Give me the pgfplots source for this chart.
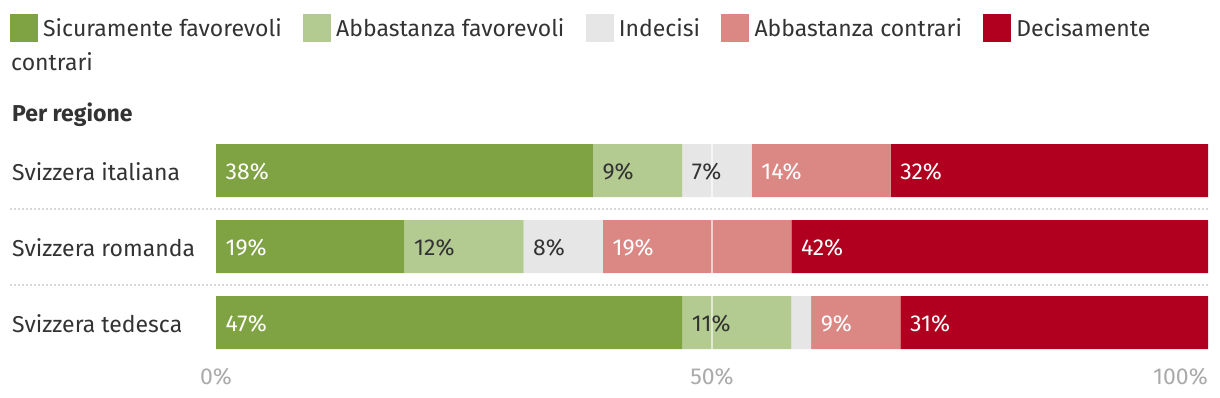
\documentclass[border=0pt]{standalone}
\usepackage{pgfplots}
\pgfplotsset{compat=1.18}
\usepackage{pgfplotstable}
\usepackage{fontspec}
\setmainfont{Fira Sans}
\usetikzlibrary{calc}

\definecolor{cSF}{HTML}{7FA343}
\definecolor{cAF}{HTML}{B3CB91}
\definecolor{cIN}{HTML}{E6E6E6}
\definecolor{cAC}{HTML}{DB8885}
\definecolor{cDC}{HTML}{B1001F}
\definecolor{txt}{HTML}{333333}
\definecolor{tickgray}{HTML}{AAAAAA}
\definecolor{sepcol}{HTML}{D8D8D8}

% row: 2 = Svizzera italiana, 1 = Svizzera romanda, 0 = Svizzera tedesca
\pgfplotstableread{
row sf af ind ac dc
2 38 9 7 14 32
1 19 12 8 19 42
0 47 11 2 9 31
}\datatab

\pgfplotstableread{
x y lab
0 2 38
54 2 14
68 2 32
0 1 19
39 1 19
58 1 42
0 0 47
60 0 9
69 0 31
}\whitelabels

\pgfplotstableread{
x y lab
38 2 9
47 2 7
19 1 12
31 1 8
47 0 11
}\darklabels

\pgfplotsset{
  basebox/.style={
    scale only axis, width=992bp, height=228bp,
    at={(216bp,-360.5bp)}, anchor=south west,
    xmin=0, xmax=100, ymin=-0.5, ymax=2.5,
    clip=false,
  }
}

\begin{document}
\fontsize{23bp}{28bp}\selectfont
\begin{tikzpicture}
\path[use as bounding box] (0,0) rectangle (1220bp,-398bp);

% legend
\fill[cSF] (10bp,-14bp) rectangle ++(28bp,-28bp);
\node[anchor=base west, inner sep=0pt, text=txt] (t1) at (43bp,-36bp) {Sicuramente favorevoli};
\fill[cAF] ($(t1.base east)+(21bp,22bp)$) rectangle ++(28bp,-28bp);
\node[anchor=base west, inner sep=0pt, text=txt] (t2) at ($(t1.base east)+(54bp,0)$) {Abbastanza favorevoli};
\fill[cIN] ($(t2.base east)+(21bp,22bp)$) rectangle ++(28bp,-28bp);
\node[anchor=base west, inner sep=0pt, text=txt] (t3) at ($(t2.base east)+(54bp,0)$) {Indecisi};
\fill[cAC] ($(t3.base east)+(21bp,22bp)$) rectangle ++(28bp,-28bp);
\node[anchor=base west, inner sep=0pt, text=txt] (t4) at ($(t3.base east)+(54bp,0)$) {Abbastanza contrari};
\fill[cDC] ($(t4.base east)+(21bp,22bp)$) rectangle ++(28bp,-28bp);
\node[anchor=base west, inner sep=0pt, text=txt] (t5) at ($(t4.base east)+(54bp,0)$) {Decisamente};
\node[anchor=base west, inner sep=0pt, text=txt] at (11bp,-70bp) {contrari};

\node[anchor=base west, inner sep=0pt, text=txt, font=\bfseries] at (12bp,-121.7bp) {Per regione};

\begin{axis}[
  basebox,
  xbar stacked, bar width=53bp,
  axis line style={draw=none},
  major tick length=0pt, tick style={draw=none},
  xtick={0,50}, xticklabels={0\%,50\%},
  extra x ticks={100}, extra x tick labels={100\%},
  extra x tick style={xticklabel style={anchor=north east}},
  xticklabel style={text=tickgray, inner sep=0pt, yshift=-7.5bp},
  ytick={0,1,2},
  yticklabels={Svizzera tedesca,Svizzera romanda,Svizzera italiana},
  yticklabel style={anchor=west, inner sep=0pt, xshift=-204bp, yshift=-1.5bp, text=txt},
]
\addplot[fill=cSF, draw=none] table[x=sf, y=row] {\datatab};
\addplot[fill=cAF, draw=none] table[x=af, y=row] {\datatab};
\addplot[fill=cIN, draw=none] table[x=ind, y=row] {\datatab};
\addplot[fill=cAC, draw=none] table[x=ac, y=row] {\datatab};
\addplot[fill=cDC, draw=none] table[x=dc, y=row] {\datatab};

\draw[sepcol, line width=2bp, dash pattern=on 2bp off 2bp] ([xshift=-206bp]axis cs:0,1.5) -- (axis cs:100,1.5);
\draw[sepcol, line width=2bp, dash pattern=on 2bp off 2bp] ([xshift=-206bp]axis cs:0,0.5) -- (axis cs:100,0.5);
\end{axis}

\begin{axis}[basebox, hide axis]
\draw[white, opacity=0.6, line width=1.5bp] (axis cs:50,1.651) -- (axis cs:50,2.349);
\draw[white, opacity=0.6, line width=1.5bp] (axis cs:50,0.651) -- (axis cs:50,1.349);
\draw[white, opacity=0.6, line width=1.5bp] (axis cs:50,-0.349) -- (axis cs:50,0.349);
\addplot[draw=none, mark=none, point meta=explicit symbolic,
  nodes near coords={\pgfplotspointmeta\%},
  every node near coord/.append style={anchor=west, inner sep=0pt, xshift=9.5bp, yshift=-1.5bp, text=white}]
  table[x=x, y=y, meta=lab] {\whitelabels};
\addplot[draw=none, mark=none, point meta=explicit symbolic,
  nodes near coords={\pgfplotspointmeta\%},
  every node near coord/.append style={anchor=west, inner sep=0pt, xshift=9.5bp, yshift=-1.5bp, text=txt}]
  table[x=x, y=y, meta=lab] {\darklabels};
\end{axis}
\end{tikzpicture}
\end{document}
